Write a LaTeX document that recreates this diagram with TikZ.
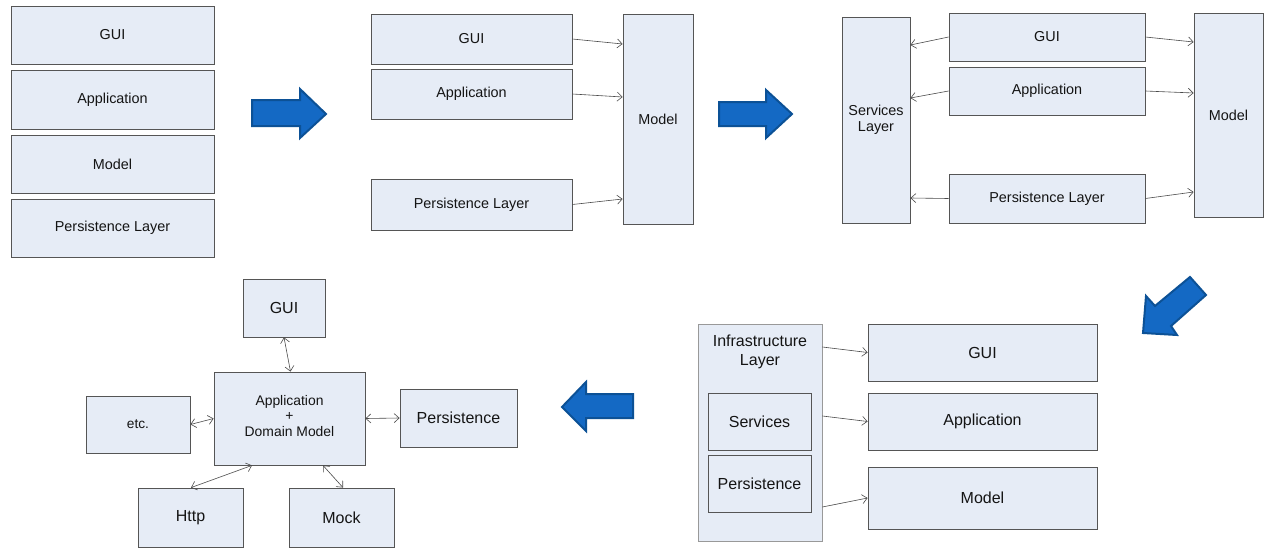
\documentclass[tikz,border=0pt]{standalone}
\usepackage{fontspec}
\setmainfont{Liberation Sans}
\usetikzlibrary{arrows.meta}
\definecolor{boxfill}{HTML}{E6ECF6}
\definecolor{boxline}{HTML}{555555}
\definecolor{conn}{HTML}{4A4A4A}
\definecolor{bigfill}{HTML}{1469C4}
\definecolor{bigline}{HTML}{0C5196}
\tikzset{
  box/.style={draw=boxline, fill=boxfill, line width=0.8pt, inner sep=0pt, align=center, text=black!92},
  lightbox/.style={box, draw=black!40},
  fs14/.style={font=\fontsize{14.4}{16.5}\selectfont},
  fs16/.style={font=\fontsize{16}{19}\selectfont},
  conn/.style={draw=conn, line width=0.6pt, -{Straight Barb[length=5pt,width=9pt]}},
  dconn/.style={draw=conn, line width=0.6pt, {Straight Barb[length=5pt,width=9pt]}-{Straight Barb[length=5pt,width=9pt]}},
  bigarrow/.style={fill=bigfill, draw=bigline, line width=2pt, line join=miter}
}
\begin{document}
\begin{tikzpicture}[x=1pt,y=-1pt]
\useasboundingbox[fill=white] (0,0) rectangle (1270,554);

% ---------- Panel 1 ----------
\node[box,fs14,minimum width=203pt,minimum height=58pt] (p1gui) at (112.5,35) {GUI};
\node[box,fs14,minimum width=203pt,minimum height=59pt] (p1app) at (112.5,99.5) {Application};
\node[box,fs14,minimum width=203pt,minimum height=58pt] (p1model) at (112.5,164) {Model};
\node[box,fs14,minimum width=203pt,minimum height=58pt] (p1pers) at (112.5,228) {Persistence Layer};

% ---------- Panel 2 ----------
\node[box,fs14,minimum width=201pt,minimum height=50pt] (p2gui) at (471.5,39) {GUI};
\node[box,fs14,minimum width=201pt,minimum height=50pt] (p2app) at (471.5,94) {Application};
\node[box,fs14,minimum width=201pt,minimum height=51pt] (p2pers) at (471.5,204.5) {Persistence Layer};
\node[box,fs14,minimum width=70pt,minimum height=210pt] (p2model) at (658,119) {Model};
\draw[conn] (p2gui.east) -- ([yshift=75pt]p2model.west);
\draw[conn] (p2app.east) -- ([yshift=22pt]p2model.west);
\draw[conn] (p2pers.east) -- ([yshift=-80pt]p2model.west);

% ---------- Panel 3 ----------
\node[box,fs14,minimum width=68pt,minimum height=206pt] (p3serv) at (876,120) {Services\\Layer};
\node[box,fs14,minimum width=196pt,minimum height=48pt] (p3gui) at (1047,37) {GUI};
\node[box,fs14,minimum width=196pt,minimum height=48pt] (p3app) at (1047,91) {Application};
\node[box,fs14,minimum width=196pt,minimum height=49pt] (p3pers) at (1047,198.5) {Persistence Layer};
\node[box,fs14,minimum width=69pt,minimum height=204pt] (p3model) at (1228.5,115) {Model};
\draw[conn] (p3gui.west) -- ([yshift=75pt]p3serv.east);
\draw[conn] (p3app.west) -- ([yshift=22pt]p3serv.east);
\draw[conn] (p3pers.west) -- ([yshift=-78pt]p3serv.east);
\draw[conn] (p3gui.east) -- ([yshift=73pt]p3model.west);
\draw[conn] (p3app.east) -- ([yshift=22pt]p3model.west);
\draw[conn] (p3pers.east) -- ([yshift=-77pt]p3model.west);

% ---------- Panel 4 ----------
\node[lightbox,minimum width=124pt,minimum height=217pt,
  label={[fs16,align=center,anchor=north,yshift=-8pt,text=black!92]north:Infrastructure\\Layer}] (p4infra) at (760,432.5) {};
\node[box,fs16,minimum width=103pt,minimum height=57pt] (p4serv) at (759.5,421.5) {Services};
\node[box,fs16,minimum width=103pt,minimum height=57pt] (p4pers) at (759.5,483.5) {Persistence};
\node[box,fs16,minimum width=229pt,minimum height=57pt] (p4gui) at (982.5,352.5) {GUI};
\node[box,fs16,minimum width=229pt,minimum height=57pt] (p4app) at (982.5,421.5) {Application};
\node[box,fs16,minimum width=229pt,minimum height=62pt] (p4model) at (982.5,498) {Model};
\draw[conn] ([yshift=85.5pt]p4infra.east) -- (p4gui.west);
\draw[conn] ([yshift=16.5pt]p4infra.east) -- (p4app.west);
\draw[conn] ([yshift=-74.5pt]p4infra.east) -- (p4model.west);

% ---------- Panel 5 ----------
\node[box,fs16,minimum width=82pt,minimum height=58pt] (p5gui) at (284,308) {GUI};
\node[box,font=\fontsize{13.9}{15.5}\selectfont,minimum width=151pt,minimum height=93pt,
  text depth=6pt] (p5app) at (289.5,418.5) {Application\\+\\Domain Model};
\node[box,font=\fontsize{13.7}{16}\selectfont,minimum width=104pt,minimum height=57pt] (p5etc) at (138,424.5) {etc.};
\node[box,fs16,minimum width=117pt,minimum height=58pt] (p5pers) at (458.5,418) {Persistence};
\node[box,fs16,minimum width=105pt,minimum height=59pt] (p5http) at (190.5,517.5) {Http};
\node[box,fs16,minimum width=105pt,minimum height=59pt] (p5mock) at (341.5,517.5) {Mock};
\draw[dconn] (p5gui.south) -- ([xshift=1pt]p5app.north);
\draw[dconn] (p5etc.east) -- (p5app.west);
\draw[dconn] (p5app.east) -- (p5pers.west);
\draw[dconn] ([xshift=0.5pt]p5http.north) -- ([xshift=-37.5pt]p5app.south);
\draw[dconn] ([xshift=1.5pt]p5mock.north) -- ([xshift=33.5pt]p5app.south);

% ---------- Big transition arrows ----------
\draw[bigarrow] (252,100) -- (300,100) -- (300,89) -- (326,114) -- (300,138) -- (300,126) -- (252,126) -- cycle;
\draw[bigarrow] (719,102) -- (766,102) -- (766,90) -- (792,114) -- (766,138) -- (766,126) -- (719,126) -- cycle;
\draw[bigarrow] (1143,333) -- (1146,296) -- (1155,306) -- (1190,277) -- (1206,295) -- (1171,326) -- (1177,335) -- cycle;
\draw[bigarrow] (633,394) -- (586,394) -- (586,382) -- (562,407) -- (586,431) -- (586,418) -- (633,418) -- cycle;
\end{tikzpicture}
\end{document}
